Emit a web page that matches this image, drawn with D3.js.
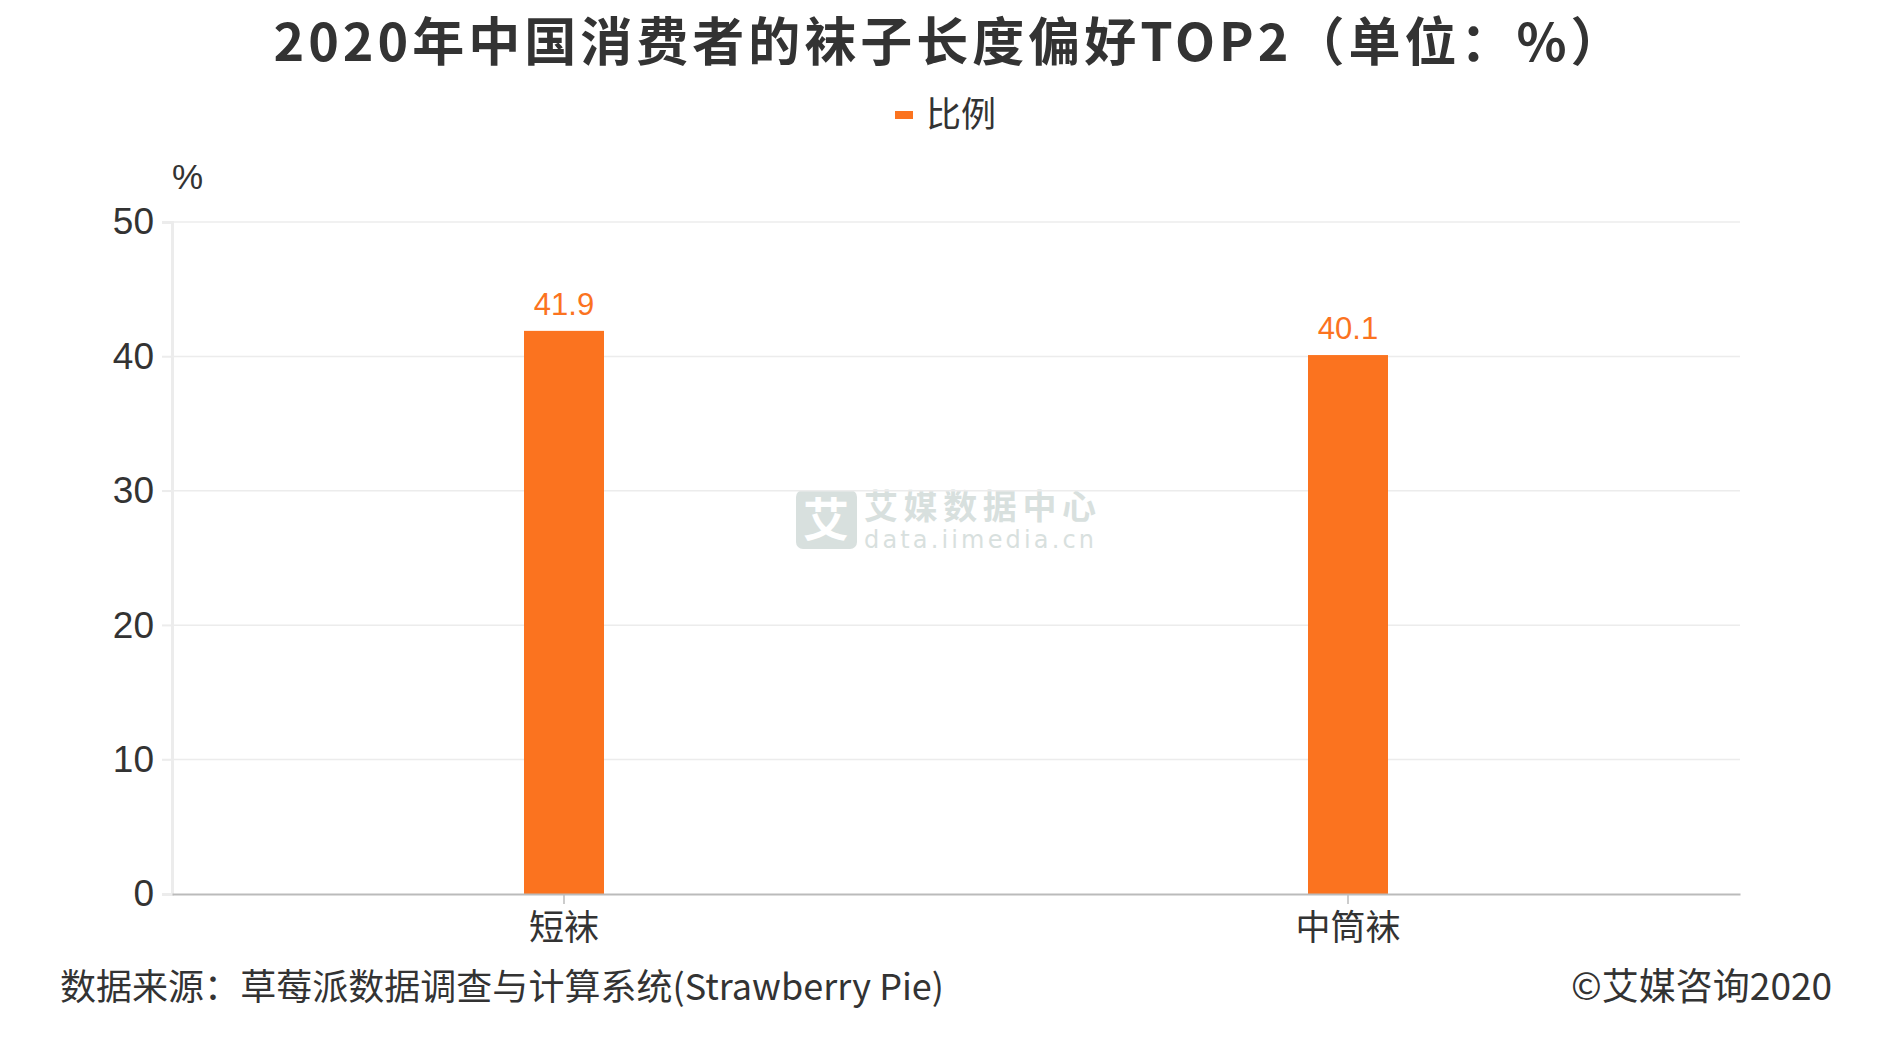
<!DOCTYPE html>
<html><head><meta charset="utf-8">
<script src="https://cdn.jsdelivr.net/npm/d3@7"></script>
<style>
html,body{margin:0;padding:0;background:#fff;}
svg{display:block;}
</style></head>
<body>
<svg id="chart" width="1892" height="1040"></svg>
<script>
const title = "2020年中国消费者的袜子长度偏好TOP2（单位：%）";
const seriesName = "比例";
const categories = ["短袜", "中筒袜"];
const values = [41.9, 40.1];
const yTicks = [0, 10, 20, 30, 40, 50];
const yUnit = "%";
const source = "数据来源：草莓派数据调查与计算系统(Strawberry Pie)";
const copyright = "©艾媒咨询2020";

const W = 1892, H = 1040;
const M = {left: 172, right: 1740, top: 222, bottom: 894};
const orange = "#fb731f";
const txt = "#333";
const latinFont = "'Liberation Sans', 'Noto Sans CJK SC', sans-serif";
const cjkFont = "'Noto Sans CJK SC', sans-serif";

const svg = d3.select("#chart");

const x = d3.scaleBand().domain(categories).range([M.left, M.right]).paddingInner(0).paddingOuter(0);
const y = d3.scaleLinear().domain([0, 50]).range([M.bottom, M.top]);

// watermark
const wm = svg.append("g").attr("opacity", 0.55);
wm.append("rect").attr("x", 796).attr("y", 490).attr("width", 61).attr("height", 59).attr("rx", 7).attr("fill", "#b9c7c4");
wm.append("text").attr("x", 826).attr("y", 536).attr("text-anchor", "middle")
  .attr("font-family", cjkFont).attr("font-weight", 700).attr("font-size", 46).attr("fill", "#fff").text("艾");
wm.append("text").attr("x", 864).attr("y", 519)
  .attr("font-family", cjkFont).attr("font-weight", 700).attr("font-size", 34).attr("fill", "#b9c7c4")
  .attr("textLength", 232).text("艾媒数据中心");
wm.append("text").attr("x", 864).attr("y", 548)
  .attr("font-family", "'DejaVu Sans', sans-serif").attr("font-size", 24).attr("fill", "#b9c7c4")
  .attr("textLength", 230).text("data.iimedia.cn");

// grid lines
svg.append("g").selectAll("line").data(yTicks.filter(d => d > 0)).join("line")
  .attr("x1", M.left - 10).attr("x2", M.right)
  .attr("y1", d => y(d)).attr("y2", d => y(d))
  .attr("stroke", "#ececec").attr("stroke-width", 1.5);

// y axis
const yAxis = svg.append("g").attr("transform", `translate(${M.left},0)`)
  .call(d3.axisLeft(y).tickValues(yTicks).tickSize(10).tickPadding(8));
yAxis.select(".domain").attr("stroke", "#ececec").attr("stroke-width", 3);
yAxis.selectAll(".tick line").attr("stroke", "#ececec").attr("stroke-width", 1.5);
yAxis.selectAll(".tick text").attr("font-family", latinFont).attr("font-size", 37).attr("fill", txt);

// bars
const bw = 80;
svg.append("g").selectAll("rect").data(values).join("rect")
  .attr("x", (d, i) => x(categories[i]) + x.bandwidth() / 2 - bw / 2)
  .attr("width", bw)
  .attr("y", d => y(d))
  .attr("height", d => y(0) - y(d))
  .attr("fill", orange);

// value labels
svg.append("g").selectAll("text").data(values).join("text")
  .attr("x", (d, i) => x(categories[i]) + x.bandwidth() / 2)
  .attr("y", d => y(d) - 16)
  .attr("text-anchor", "middle")
  .attr("font-family", latinFont).attr("font-size", 31).attr("fill", orange)
  .text(d => d.toFixed(1));

// x axis
const xAxis = svg.append("g").attr("transform", `translate(0,${M.bottom})`)
  .call(d3.axisBottom(x).tickSize(10).tickPadding(8).tickSizeOuter(0));
xAxis.select(".domain").attr("stroke", "#bbb").attr("stroke-width", 2);
xAxis.selectAll(".tick line").attr("stroke", "#bbb").attr("stroke-width", 1.5);
xAxis.selectAll(".tick text").attr("font-family", cjkFont).attr("font-size", 35).attr("fill", txt).attr("dy", "0.8em");

// y unit
svg.append("text").attr("x", 172).attr("y", 189).attr("font-family", latinFont)
  .attr("font-size", 35).attr("fill", txt).text(yUnit);

// title
const t = svg.append("text").attr("x", 0).attr("y", 61)
  .attr("font-family", cjkFont).attr("font-weight", 700).attr("font-size", 52).attr("fill", txt)
  .attr("letter-spacing", 4).text(title);
const tw = t.node().getComputedTextLength();
t.attr("x", 950 - tw / 2);

// legend
svg.append("rect").attr("x", 895).attr("y", 111).attr("width", 18).attr("height", 8).attr("fill", orange);
svg.append("text").attr("x", 926).attr("y", 127).attr("font-family", cjkFont)
  .attr("font-size", 35).attr("fill", txt).text(seriesName);

// footer
svg.append("text").attr("x", 60).attr("y", 1000).attr("font-family", cjkFont)
  .attr("font-size", 36).attr("fill", txt).attr("textLength", 884).text(source);
svg.append("text").attr("x", 1832).attr("y", 1000).attr("text-anchor", "end").attr("font-family", cjkFont)
  .attr("font-size", 37).attr("fill", txt).text(copyright);
</script>
</body></html>
